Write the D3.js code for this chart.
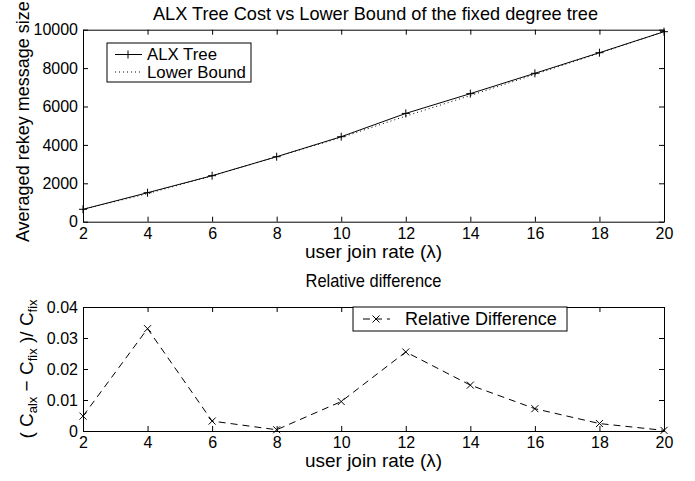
<!DOCTYPE html>
<html>
<head>
<meta charset="utf-8">
<script src="https://cdn.jsdelivr.net/npm/d3@7"></script>
<style>
  body { margin: 0; background: #fff; }
  svg text { font-family: "Liberation Sans", Arial, Helvetica, sans-serif; fill: #000; }
  .axis path, .axis line { stroke: #000; stroke-width: 1; }
  .axis text { font-size: 16px; }
</style>
</head>
<body>
<div id="chart"></div>
<script>
// values
const joinRate = [2, 4, 6, 8, 10, 12, 14, 16, 18, 20];
const alxTree = [646, 1510, 2396, 3385, 4427, 5640, 6670, 7729, 8802, 9896];
const lowerBound = [643, 1462, 2388, 3384, 4385, 5500, 6572, 7672, 8780, 9894];
const relDiff = [0.0048, 0.033, 0.0032, 0.0004, 0.0095, 0.0255, 0.0148, 0.0072, 0.0024, 0.0002];

const xTicks = [2, 4, 6, 8, 10, 12, 14, 16, 18, 20];
const topYTicks = [0, 2000, 4000, 6000, 8000, 10000];
const botYTicks = [0, 0.01, 0.02, 0.03, 0.04];

const width = 695, height = 481;
const svg = d3.select("#chart").append("svg")
  .attr("width", width)
  .attr("height", height);

const left = 83, right = 664;
const mid = (left + right) / 2;

// draws a framed MATLAB-like axes box, returns scales
function makeAxes(top, bottom, yDomain, yTicks, yFmt) {
  const x = d3.scaleLinear().domain([2, 20]).range([left, right]);
  const y = d3.scaleLinear().domain(yDomain).range([bottom, top]);

  svg.append("g").attr("class", "axis")
    .attr("transform", "translate(0," + bottom + ")")
    .call(d3.axisBottom(x).tickValues(xTicks).tickSizeInner(-5).tickSizeOuter(0).tickPadding(6))
    .call(g => g.selectAll("text").attr("dy", "0.71em"));

  svg.append("g").attr("class", "axis")
    .attr("transform", "translate(0," + top + ")")
    .call(d3.axisTop(x).tickValues(xTicks).tickSizeInner(-5).tickSizeOuter(0).tickFormat(""));

  svg.append("g").attr("class", "axis")
    .attr("transform", "translate(" + left + ",0)")
    .call(d3.axisLeft(y).tickValues(yTicks).tickSizeInner(-5).tickSizeOuter(0).tickPadding(5).tickFormat(yFmt));

  svg.append("g").attr("class", "axis")
    .attr("transform", "translate(" + right + ",0)")
    .call(d3.axisRight(y).tickValues(yTicks).tickSizeInner(-5).tickSizeOuter(0).tickFormat(""));

  return { x, y };
}

// label squeezed to the width seen in the picture
function label(x, y, size, len, txt) {
  return svg.append("text")
    .attr("x", x - len / 2).attr("y", y)
    .style("font-size", size + "px")
    .attr("textLength", len).attr("lengthAdjust", "spacingAndGlyphs")
    .text(txt);
}

// ---------------- top plot ----------------
const t = makeAxes(29.7, 221.7, [0, 10000], topYTicks, d3.format("d"));

label(375.5, 19.5, 19, 445, "ALX Tree Cost vs Lower Bound of the fixed degree tree");
label(mid, 258, 19, 137, "user join rate (\u03BB)");

svg.append("text")
  .attr("transform", "translate(29," + ((29.7 + 221.7) / 2 - 4) + ") rotate(-90)")
  .attr("text-anchor", "middle").style("font-size", "18px")
  .text("Averaged rekey message size");

const lineTop = d3.line()
  .x((d, i) => t.x(joinRate[i]))
  .y(d => t.y(d));

svg.append("path").datum(lowerBound)
  .attr("d", lineTop)
  .attr("fill", "none").attr("stroke", "#000").attr("stroke-width", 1)
  .attr("stroke-dasharray", "1,3");

svg.append("path").datum(alxTree)
  .attr("d", lineTop)
  .attr("fill", "none").attr("stroke", "#000").attr("stroke-width", 1);

const plus = 4;
svg.append("g").selectAll("path.plus")
  .data(alxTree).join("path")
  .attr("d", (d, i) => {
    const cx = t.x(joinRate[i]), cy = t.y(d);
    return "M" + (cx - plus) + "," + cy + "H" + (cx + plus) + "M" + cx + "," + (cy - plus) + "V" + (cy + plus);
  })
  .attr("stroke", "#000").attr("stroke-width", 1);

// top legend
const lg = svg.append("g");
lg.append("rect").attr("x", 107).attr("y", 43).attr("width", 144).attr("height", 39)
  .attr("fill", "#fff").attr("stroke", "#000").attr("stroke-width", 1);
lg.append("line").attr("x1", 115).attr("x2", 142).attr("y1", 54.5).attr("y2", 54.5)
  .attr("stroke", "#000");
lg.append("path").attr("d", "M124,54.5H132M128,50.5V58.5").attr("stroke", "#000");
lg.append("text").attr("x", 147).attr("y", 59.5).style("font-size", "16.8px").text("ALX Tree");
lg.append("line").attr("x1", 115).attr("x2", 142).attr("y1", 72).attr("y2", 72)
  .attr("stroke", "#000").attr("stroke-dasharray", "1,3");
lg.append("text").attr("x", 147).attr("y", 77.5).style("font-size", "16.8px").text("Lower Bound");

// ---------------- bottom plot ----------------
const b = makeAxes(307, 431, [0, 0.04], botYTicks, d => d === 0 ? "0" : d3.format(".2f")(d));

label(mid, 287, 19, 136, "Relative difference");
label(mid, 467, 19, 137, "user join rate (\u03BB)");

const yl = svg.append("text")
  .attr("transform", "translate(33," + (307 + 431) / 2 + ") rotate(-90)")
  .attr("text-anchor", "middle").style("font-size", "19px");
yl.append("tspan").text("( C");
yl.append("tspan").attr("baseline-shift", "-30%").style("font-size", "13px").text("alx");
yl.append("tspan").text(" \u2212 C");
yl.append("tspan").attr("baseline-shift", "-30%").style("font-size", "13px").text("fix");
yl.append("tspan").text(" )/ C");
yl.append("tspan").attr("baseline-shift", "-30%").style("font-size", "13px").text("fix");

const lineBot = d3.line()
  .x((d, i) => b.x(joinRate[i]))
  .y(d => b.y(d));

svg.append("path").datum(relDiff)
  .attr("d", lineBot)
  .attr("fill", "none").attr("stroke", "#000").attr("stroke-width", 1)
  .attr("stroke-dasharray", "7,5");

const cr = 3.5;
svg.append("g").selectAll("path.cross")
  .data(relDiff).join("path")
  .attr("d", (d, i) => {
    const cx = b.x(joinRate[i]), cy = b.y(d);
    return "M" + (cx - cr) + "," + (cy - cr) + "L" + (cx + cr) + "," + (cy + cr) +
      "M" + (cx - cr) + "," + (cy + cr) + "L" + (cx + cr) + "," + (cy - cr);
  })
  .attr("stroke", "#000").attr("stroke-width", 1);

// bottom legend
const lb = svg.append("g");
lb.append("rect").attr("x", 353).attr("y", 307).attr("width", 214).attr("height", 24)
  .attr("fill", "#fff").attr("stroke", "#000").attr("stroke-width", 1);
lb.append("line").attr("x1", 363).attr("x2", 390).attr("y1", 319).attr("y2", 319)
  .attr("stroke", "#000").attr("stroke-dasharray", "7,5");
lb.append("path").attr("d", "M372.5,315.5L379.5,322.5M372.5,322.5L379.5,315.5").attr("stroke", "#000");
lb.append("text").attr("x", 405).attr("y", 325).style("font-size", "18px").text("Relative Difference");
</script>
</body>
</html>
